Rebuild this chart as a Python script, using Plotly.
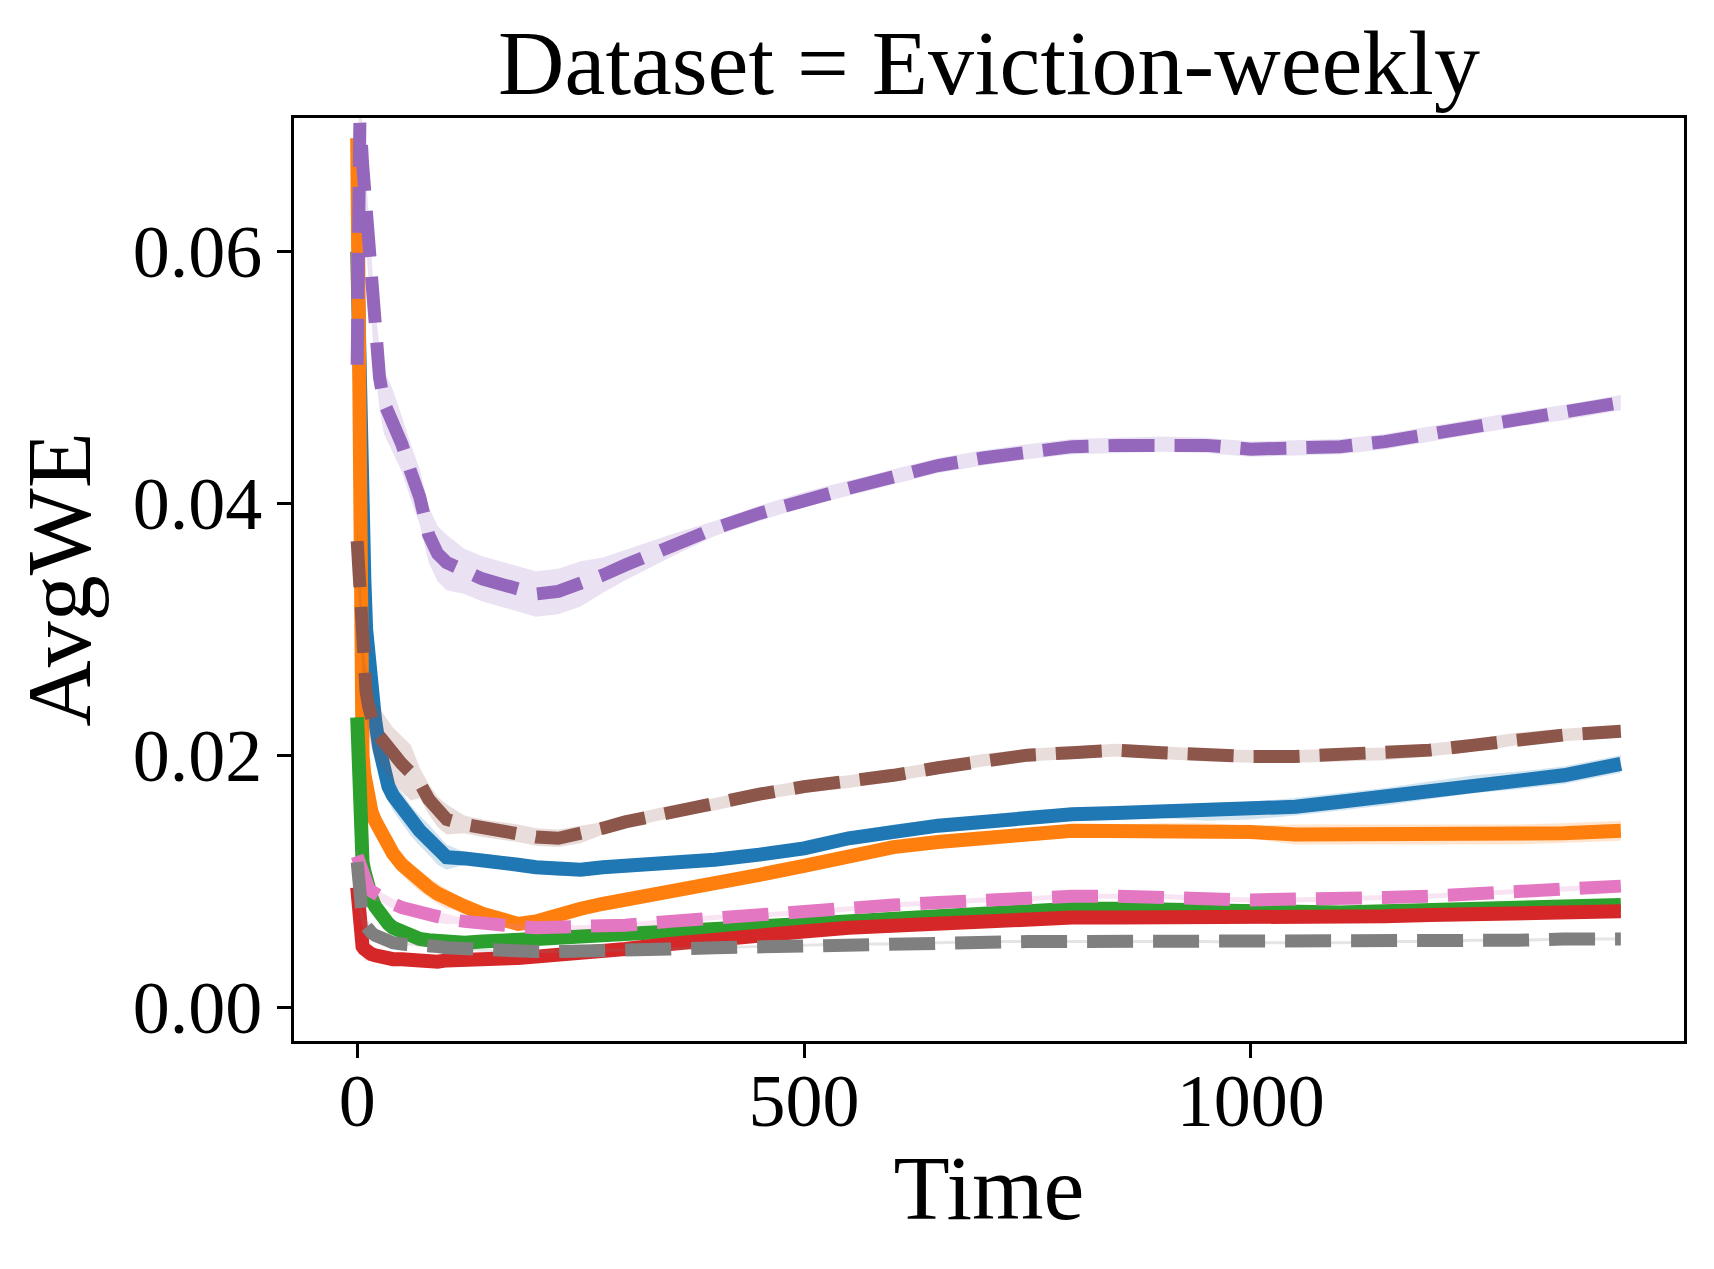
import plotly.graph_objects as go

# ---------------- data ----------------
time = [0, 1, 2, 3, 4, 6, 8, 10, 13, 16, 20, 25, 30, 35, 40, 50, 60, 70, 80, 90, 100,
        120, 140, 160, 180, 200, 225, 250, 275, 300, 350, 400, 450, 500, 550, 600, 650,
        700, 750, 800, 850, 900, 950, 1000, 1050, 1100, 1150, 1200, 1250, 1300, 1350, 1414]

blue = [0.060, 0.055, 0.050, 0.046, 0.043, 0.039, 0.034, 0.030, 0.027, 0.025, 0.0228, 0.0205,
        0.0188, 0.0175, 0.0168, 0.0158, 0.0148, 0.0140, 0.0133, 0.0125, 0.0119, 0.0118, 0.0117,
        0.0115, 0.0113, 0.0111, 0.0109, 0.0109, 0.0111, 0.0112, 0.0114, 0.0117, 0.0121, 0.0126,
        0.0134, 0.0140, 0.0144, 0.0147, 0.0151, 0.0153, 0.0154, 0.0155, 0.0155, 0.0156, 0.0159,
        0.0163, 0.0167, 0.0172, 0.0177, 0.0180, 0.0184, 0.0193]
blue_err = [0.002, 0.002, 0.002, 0.002, 0.002, 0.002, 0.002, 0.002, 0.0012, 0.0012, 0.0012,
            0.0012, 0.0012, 0.0012, 0.0012, 0.0012, 0.0012, 0.0012, 0.0012, 0.0012, 0.0010,
            0.0005, 0.0005, 0.0005, 0.0005, 0.0005, 0.0005, 0.0005, 0.0005, 0.0005, 0.0005,
            0.0005, 0.0005, 0.0005, 0.0005, 0.0005, 0.0005, 0.0005, 0.0005, 0.0005, 0.0005,
            0.0005, 0.0007, 0.0007, 0.0007, 0.0007, 0.0007, 0.0007, 0.0007, 0.0007, 0.0007, 0.0007]

orange = [0.069, 0.055, 0.040, 0.028, 0.023, 0.020, 0.0185, 0.0175, 0.0165, 0.0155, 0.0148,
          0.0140, 0.0133, 0.0128, 0.0122, 0.0113, 0.0106, 0.0100, 0.0095, 0.0090, 0.0086,
          0.0080, 0.0074, 0.0070, 0.0066, 0.0068, 0.0074, 0.0078, 0.0082, 0.0085, 0.0092,
          0.0099, 0.0105, 0.0112, 0.0120, 0.0127, 0.0131, 0.0133, 0.0137, 0.0140, 0.0140,
          0.0141, 0.0141, 0.0139, 0.0137, 0.0137, 0.0137, 0.0137, 0.0137, 0.0137, 0.0138, 0.0140]
orange_err = [0.001, 0.001, 0.001, 0.001, 0.001, 0.001, 0.001, 0.001, 0.0008, 0.0008, 0.0008,
              0.0008, 0.0008, 0.0008, 0.0008, 0.0008, 0.0008, 0.0008, 0.0008, 0.0008, 0.0008,
              0.0004, 0.0004, 0.0004, 0.0004, 0.0004, 0.0004, 0.0004, 0.0004, 0.0004, 0.0004,
              0.0004, 0.0004, 0.0004, 0.0004, 0.0004, 0.0005, 0.0005, 0.0005, 0.0005, 0.0005,
              0.0005, 0.0005, 0.0005, 0.0008, 0.0008, 0.0008, 0.0008, 0.0008, 0.0008, 0.0008, 0.0008]

green = [0.023, 0.019, 0.015, 0.013, 0.0125, 0.0115, 0.0108, 0.0100, 0.0093, 0.0087, 0.0080,
         0.0074, 0.0070, 0.0066, 0.0063, 0.0059, 0.0056, 0.0054, 0.0053, 0.0052, 0.0051,
         0.0051, 0.0052, 0.0052, 0.0053, 0.0054, 0.0055, 0.0056, 0.0057, 0.0058, 0.0061,
         0.0064, 0.0066, 0.0068, 0.0070, 0.0072, 0.0074, 0.0076, 0.0077, 0.0078, 0.0078,
         0.0077, 0.0076, 0.0075, 0.0075, 0.0075, 0.0076, 0.0077, 0.0078, 0.0079, 0.0080, 0.0081]
green_err = [0.0006] * 11 + [0.0004] * 10 + [0.0002] * 27 + [0.0003] * 4

red = [0.0095, 0.0075, 0.0062, 0.0055, 0.0051, 0.0048, 0.0046, 0.0044, 0.0043, 0.0042, 0.0041,
       0.0040, 0.0039, 0.0039, 0.0038, 0.0038, 0.0037, 0.0037, 0.0036, 0.0036, 0.0037, 0.0037,
       0.0038, 0.0038, 0.0039, 0.0040, 0.0041, 0.0042, 0.0044, 0.0046, 0.0050, 0.0054, 0.0057,
       0.0060, 0.0063, 0.0065, 0.0067, 0.0069, 0.0070, 0.0071, 0.0071, 0.0071, 0.0071, 0.0070,
       0.0070, 0.0071, 0.0072, 0.0073, 0.0074, 0.0075, 0.0075, 0.0076]
red_err = [0.0008] * 8 + [0.0002] * 44

purple = [0.051, 0.063, 0.0702, 0.0702, 0.0695, 0.067, 0.065, 0.063, 0.060, 0.057, 0.053, 0.050,
          0.048, 0.0473, 0.0465, 0.0447, 0.0425, 0.0405, 0.0375, 0.0360, 0.0353, 0.0346, 0.0340,
          0.0336, 0.0332, 0.0328, 0.0330, 0.0336, 0.0343, 0.0351, 0.0366, 0.0380, 0.0392, 0.0403,
          0.0412, 0.0421, 0.0430, 0.0436, 0.0441, 0.0445, 0.0446, 0.0447, 0.0446, 0.0443, 0.0444,
          0.0445, 0.0449, 0.0455, 0.0461, 0.0467, 0.0472, 0.0480]
purple_err = [0.003] * 8 + [0.0025] * 7 + [0.0022] * 6 + [0.0018] * 7 + [0.0014, 0.0012, 0.0009] + [0.0006] * 21

brown = [0.037, 0.0355, 0.034, 0.0325, 0.031, 0.028, 0.026, 0.025, 0.0238, 0.0228, 0.0220,
         0.0215, 0.0210, 0.0205, 0.0200, 0.0193, 0.0186, 0.0178, 0.0165, 0.0155, 0.0149, 0.0145,
         0.0142, 0.0140, 0.0138, 0.0135, 0.0134, 0.0137, 0.0142, 0.0147, 0.0155, 0.0161, 0.0169,
         0.0175, 0.0179, 0.0184, 0.0190, 0.0196, 0.0200, 0.0202, 0.0204, 0.0202, 0.0200, 0.0199,
         0.0199, 0.0200, 0.0201, 0.0204, 0.0208, 0.0213, 0.0216, 0.0219]
brown_err = [0.002] * 8 + [0.0022] * 9 + [0.0012] * 4 + [0.0007] * 7 + [0.0005] * 24

pink = [0.0120, 0.0118, 0.0115, 0.0112, 0.0108, 0.0104, 0.0100, 0.0097, 0.0094, 0.0092, 0.0090,
        0.0088, 0.0086, 0.0084, 0.0082, 0.0079, 0.0077, 0.0075, 0.0073, 0.0071, 0.0070, 0.0068,
        0.0066, 0.0065, 0.0064, 0.0063, 0.0063, 0.0063, 0.0064, 0.0065, 0.0068, 0.0071, 0.0073,
        0.0075, 0.0078, 0.0081, 0.0083, 0.0085, 0.0086, 0.0088, 0.0088, 0.0088, 0.0086, 0.0085,
        0.0085, 0.0086, 0.0087, 0.0088, 0.0090, 0.0092, 0.0094, 0.0096]
pink_err = [0.0006] * 11 + [0.0004] * 10 + [0.0002] * 31

gray = [0.0115, 0.0100, 0.0088, 0.0080, 0.0075, 0.0070, 0.0066, 0.0063, 0.0061, 0.0059, 0.0057,
        0.0055, 0.0053, 0.0052, 0.0051, 0.0050, 0.0050, 0.0049, 0.0049, 0.0048, 0.0047, 0.0046,
        0.0045, 0.0044, 0.0044, 0.0044, 0.0044, 0.0044, 0.0045, 0.0045, 0.0046, 0.0047, 0.0048,
        0.0049, 0.0050, 0.0050, 0.0051, 0.0052, 0.0052, 0.0052, 0.0052, 0.0052, 0.0052, 0.0051,
        0.0051, 0.0051, 0.0052, 0.0052, 0.0053, 0.0053, 0.0054, 0.0054]
gray_err = [0.0006] * 11 + [0.00012] * 41

x_ticks = [0, 500, 1000]
y_ticks = [0.00, 0.02, 0.04, 0.06]

# ---------------- figure ----------------
DASH = "46px,20px"
series = [
    (blue, blue_err, (31, 119, 180), "solid", 14),
    (orange, orange_err, (255, 127, 14), "solid", 14),
    (green, green_err, (44, 160, 44), "solid", 14),
    (red, red_err, (214, 39, 40), "solid", 14),
    (purple, purple_err, (148, 103, 189), DASH, 13),
    (brown, brown_err, (140, 86, 75), DASH, 13),
    (pink, pink_err, (227, 119, 194), DASH, 13),
    (gray, gray_err, (127, 127, 127), DASH, 13),
]

fig = go.Figure()
for vals, err, (r, g, b), dash, lw in series:
    upper = [v + e for v, e in zip(vals, err)]
    lower = [v - e for v, e in zip(vals, err)]
    fig.add_trace(go.Scatter(
        x=time + time[::-1], y=upper + lower[::-1], fill="toself",
        fillcolor=f"rgba({r},{g},{b},0.2)", line=dict(width=0),
        mode="lines", hoverinfo="skip", showlegend=False))
    fig.add_trace(go.Scatter(
        x=time, y=vals, mode="lines",
        line=dict(color=f"rgb({r},{g},{b})", width=lw, dash=dash),
        showlegend=False))

FONT = "Liberation Serif, Times New Roman, serif"
T = time[-1]
L, R, TOP, B = 286, 38, 110, 236
fig.update_layout(
    width=1714, height=1269,
    margin=dict(l=L, r=R, t=TOP, b=B),
    paper_bgcolor="white", plot_bgcolor="white",
    font=dict(family=FONT, color="black", size=74),
    title=dict(text="Dataset = Eviction-weekly", x=(L + (1714 - L - R) / 2) / 1714,
               xanchor="center", y=1 - 86 / 1269, yanchor="bottom", yref="container",
               font=dict(family=FONT, size=92, color="black")),
    xaxis=dict(range=[-0.05 * T, 1.05 * T], tickvals=x_ticks, ticktext=[str(v) for v in x_ticks],
               showline=True, linecolor="black", linewidth=3, mirror=True,
               ticks="outside", ticklen=14, tickwidth=3, tickcolor="black",
               showgrid=False, zeroline=False, ticklabelstandoff=-21,
               tickfont=dict(family=FONT, size=74),
               title=dict(text="Time", font=dict(family=FONT, size=92), standoff=14)),
    yaxis=dict(range=[-0.0027, 0.0706], tickvals=y_ticks, tickformat=".2f",
               showline=True, linecolor="black", linewidth=3, mirror=True,
               ticks="outside", ticklen=14, tickwidth=3, tickcolor="black",
               showgrid=False, zeroline=False,
               tickfont=dict(family=FONT, size=74),
               title=dict(text="AvgWE", font=dict(family=FONT, size=92), standoff=20)),
)

fig.write_html("out.html")
